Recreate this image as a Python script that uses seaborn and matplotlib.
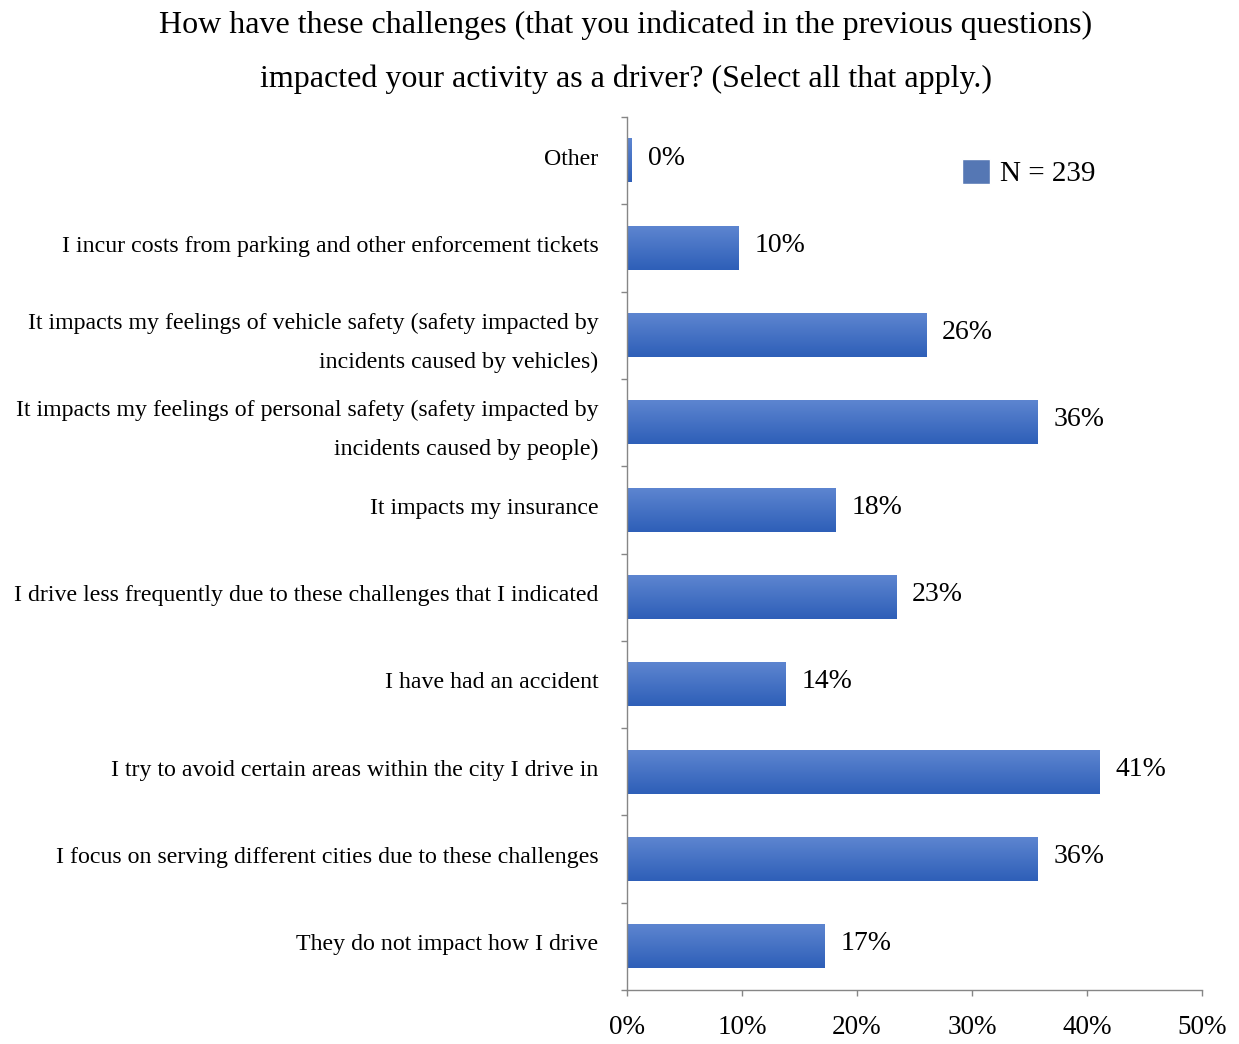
import numpy as np
import pandas as pd
import matplotlib
matplotlib.use("Agg")
import matplotlib.pyplot as plt
import seaborn as sns
from matplotlib.colors import LinearSegmentedColormap
from matplotlib.transforms import ScaledTranslation

# Survey responses (share of drivers, %), listed top to bottom
categories = [
    "Other",
    "I incur costs from parking and other enforcement tickets",
    "It impacts my feelings of vehicle safety (safety impacted by\nincidents caused by vehicles)",
    "It impacts my feelings of personal safety (safety impacted by\nincidents caused by people)",
    "It impacts my insurance",
    "I drive less frequently due to these challenges that I indicated",
    "I have had an accident",
    "I try to avoid certain areas within the city I drive in",
    "I focus on serving different cities due to these challenges",
    "They do not impact how I drive",
]
percent = [0.4, 9.7, 26.0, 35.7, 18.1, 23.4, 13.8, 41.1, 35.7, 17.2]
series_name = "N = 239"
x_ticks = [0, 10, 20, 30, 40, 50]
title_lines = [
    "How have these challenges (that you indicated in the previous questions)",
    "impacted your activity as a driver? (Select all that apply.)",
]

df = pd.DataFrame({"category": categories, "percent": percent, "series": series_name})

sns.set_theme(style="white")
plt.rcParams["font.family"] = ["Liberation Serif", "DejaVu Serif"]
plt.rcParams["text.color"] = "black"

W, H = 1239, 1044
fig = plt.figure(figsize=(W / 100, H / 100), dpi=100)
ax = fig.add_axes([627 / W, 1 - 990 / H, (1202 - 627) / W, (990 - 117) / H])

top_rgb = np.array([93, 133, 208]) / 255
bot_rgb = np.array([46, 95, 184]) / 255
mid_rgb = (top_rgb + bot_rgb) / 2

sns.barplot(data=df, x="percent", y="category", hue="series", order=categories,
            palette=[mid_rgb], width=0.5, orient="h", ax=ax, legend=True)

# Vertical gradient fill on each bar
grad = LinearSegmentedColormap.from_list("bar_grad", [top_rgb, bot_rgb])
gvals = np.linspace(0, 1, 64).reshape(-1, 1)
for p in ax.patches:
    x0, y0 = p.get_x(), p.get_y()
    w, h = p.get_width(), p.get_height()
    if w <= 0:
        continue
    ax.imshow(gvals, cmap=grad, aspect="auto", origin="upper",
              extent=(x0, x0 + w, y0 + h, y0), zorder=p.get_zorder() + 0.1,
              interpolation="bilinear")

# Value labels
for i, v in enumerate(percent):
    ax.text(v + 1.4, i - 0.03, f"{v:.0f}%", va="center", ha="left",
            fontsize=20, color="black")

ax.set_xlim(0, 50)
ax.set_ylim(len(categories) - 0.5, -0.5)
ax.set_xticks(x_ticks)
ax.set_xticklabels([f"{t}%" for t in x_ticks], fontsize=19.5, color="black")
ax.set_yticks(range(len(categories)))
ax.set_yticklabels(categories, fontsize=17.2, linespacing=2.1, color="black")
ax.set_yticks(np.arange(-0.5, len(categories), 1.0), minor=True)
ax.tick_params(axis="y", which="major", length=0, pad=20.5)
ax.tick_params(axis="y", which="minor", length=4.3, width=1, color="#868686", left=True)
ax.tick_params(axis="x", which="major", length=4.3, width=1, color="#868686",
               bottom=True, pad=14)
ax.set_xlabel("")
ax.set_ylabel("")

# Nudge category labels slightly upward
shift = ScaledTranslation(0, 4 / 100, fig.dpi_scale_trans)
for lab in ax.get_yticklabels():
    lab.set_transform(lab.get_transform() + shift)

for side in ["top", "right"]:
    ax.spines[side].set_visible(False)
for side in ["left", "bottom"]:
    ax.spines[side].set_color("#868686")
    ax.spines[side].set_linewidth(1)
ax.grid(False)

leg = ax.legend(loc="center left", bbox_to_anchor=(962 / W, 1 - 173 / H),
                bbox_transform=fig.transFigure, frameon=False,
                fontsize=21, handlelength=0.95, handleheight=0.95, handletextpad=0.35,
                borderaxespad=0, borderpad=0)

fig.text(626 / W, 1 - 25 / H, title_lines[0], ha="center", va="center", fontsize=23)
fig.text(626 / W, 1 - 79 / H, title_lines[1], ha="center", va="center", fontsize=23)

fig.savefig("out.png", dpi=100)
